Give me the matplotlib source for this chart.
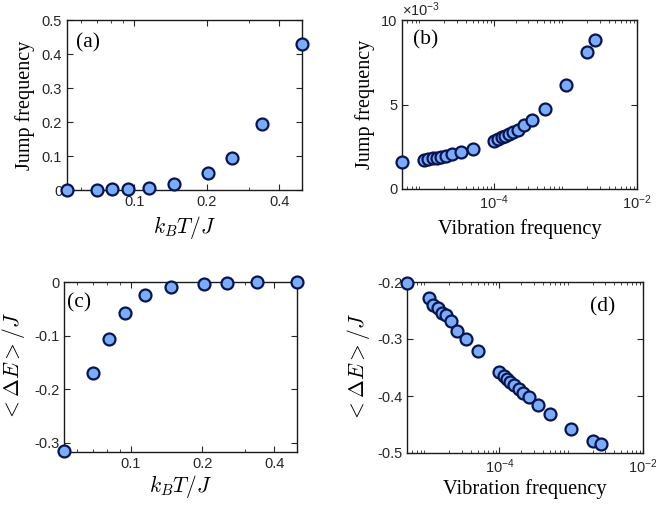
import numpy as np
import matplotlib
matplotlib.use('Agg')
import matplotlib.pyplot as plt
from matplotlib import ticker

plt.rcParams['mathtext.fontset'] = 'cm'
plt.rcParams['axes.unicode_minus'] = False
plt.rcParams['font.family'] = 'Liberation Sans'

# temperature data, panels (a) and (c)
kT = [0.0529, 0.070, 0.0813, 0.0947, 0.1154, 0.147, 0.203, 0.254, 0.339, 0.496]
jump_T = [0.001, 0.001, 0.002, 0.003, 0.007, 0.018, 0.05, 0.094, 0.194, 0.428]
dE_T = [-0.316, -0.169, -0.106, -0.057, -0.025, -0.010, -0.003, -0.0012, -0.0007, -0.0004]

# vibration frequency data, panels (b) and (d)
vib = [5.2e-6, 1.05e-5, 1.2e-5, 1.38e-5, 1.58e-5, 1.82e-5, 2.13e-5, 2.6e-5, 3.45e-5, 5.1e-5,
       1.0e-4, 1.14e-4, 1.28e-4, 1.42e-4, 1.62e-4, 1.86e-4, 2.13e-4, 2.6e-4, 3.4e-4, 5.1e-4,
       1.0e-3, 2.0e-3, 2.6e-3]
jump_v = [1.59, 1.71, 1.77, 1.81, 1.85, 1.91, 1.97, 2.05, 2.17, 2.38,
          2.85, 2.95, 3.05, 3.15, 3.27, 3.39, 3.50, 3.80, 4.07, 4.76,
          6.14, 8.13, 8.84]  # x 1e-3
dE_v = [-0.201, -0.228, -0.240, -0.245, -0.254, -0.258, -0.268, -0.286, -0.300, -0.321,
        -0.358, -0.365, -0.371, -0.376, -0.381, -0.387, -0.394, -0.402, -0.415, -0.431,
        -0.458, -0.479, -0.485]

face = '#7aacf7'
edge = '#061552'
tick_col = '#262626'
serif = 'Liberation Serif'

fig = plt.figure(figsize=(6.56, 5.13), dpi=100)
W, H = 656, 513

def make_ax(l, r, t, b):
    ax = fig.add_axes([l / W, 1 - b / H, (r - l) / W, (b - t) / H])
    ax.tick_params(which='both', direction='in', top=True, right=True,
                   labelsize=10.5, colors=tick_col, length=4)
    ax.tick_params(which='minor', length=2)
    for s in ax.spines.values():
        s.set_color('#1a1a1a')
        s.set_linewidth(1.0)
    return ax

def dots(ax, x, y):
    ax.plot(x, y, 'o', ms=8.6, mfc=face, mec=edge, mew=1.6, clip_on=False, zorder=5)

def temp_x(ax):
    ax.set_xscale('log')
    ax.set_xlim(0.0527, 0.497)
    ax.xaxis.set_major_locator(ticker.FixedLocator([0.1, 0.2, 0.4]))
    ax.xaxis.set_major_formatter(ticker.FixedFormatter(['0.1', '0.2', '0.4']))
    ax.xaxis.set_minor_formatter(ticker.NullFormatter())

def vib_x(ax):
    ax.set_xscale('log')
    ax.set_xlim(5.15e-6, 1e-2)
    ax.xaxis.set_major_locator(ticker.FixedLocator([1e-4, 1e-2]))
    ax.xaxis.set_major_formatter(ticker.FixedFormatter([r'$\mathregular{10^{-4}}$', r'$\mathregular{10^{-2}}$']))
    ax.xaxis.set_minor_locator(ticker.LogLocator(base=10, subs=np.arange(2, 10), numticks=20))
    ax.xaxis.set_minor_formatter(ticker.NullFormatter())

# (a)
ax = make_ax(67, 302, 20, 190)
dots(ax, kT, jump_T)
temp_x(ax)
ax.set_ylim(0, 0.5)
ax.set_yticks([0, 0.1, 0.2, 0.3, 0.4, 0.5])
ax.set_yticklabels(['0', '0.1', '0.2', '0.3', '0.4', '0.5'])
ax.set_ylabel('Jump frequency', fontsize=14.5, family=serif)
ax.yaxis.set_label_coords(-0.135, 0.5)
ax.set_xlabel(r'$k_BT/J$', fontsize=15.5)
ax.xaxis.set_label_coords(0.5, -0.14)
ax.text(0.04, 0.865, '(a)', transform=ax.transAxes, fontsize=15.5, family=serif, va='center')

# (b)
ax = make_ax(402, 637, 20, 189)
dots(ax, vib, np.array(jump_v) * 1e-3)
vib_x(ax)
ax.set_ylim(0, 0.01)
ax.set_yticks([0, 0.005, 0.01])
ax.set_yticklabels(['0', '5', '10'])
ax.text(0.0, 1.005, r'$\mathregular{\times10^{-3}}$', transform=ax.transAxes, fontsize=10.5,
        color=tick_col, ha='left', va='bottom')
ax.set_ylabel('Jump frequency', fontsize=14.5, family=serif)
ax.yaxis.set_label_coords(-0.115, 0.5)
ax.set_xlabel('Vibration frequency', fontsize=14.7, family=serif)
ax.xaxis.set_label_coords(0.5, -0.18)
ax.text(0.047, 0.88, '(b)', transform=ax.transAxes, fontsize=15.5, family=serif, va='center')

# (c)
ax = make_ax(64, 297, 282, 452)
dots(ax, kT, dE_T)
temp_x(ax)
ax.set_ylim(-0.317, 0)
ax.set_yticks([-0.3, -0.2, -0.1, 0])
ax.set_yticklabels(['-0.3', '-0.2', '-0.1', '0'])
ax.set_ylabel(r'$<\Delta E>/J$', fontsize=15.5)
ax.yaxis.set_label_coords(-0.16, 0.5)
ax.set_xlabel(r'$k_BT/J$', fontsize=15.5)
ax.xaxis.set_label_coords(0.5, -0.125)
ax.text(0.012, 0.875, '(c)', transform=ax.transAxes, fontsize=15.5, family=serif, va='center')

# (d)
ax = make_ax(407, 643, 282, 453)
dots(ax, vib, dE_v)
vib_x(ax)
ax.set_ylim(-0.5, -0.2)
ax.set_yticks([-0.5, -0.4, -0.3, -0.2])
ax.set_yticklabels(['-0.5', '-0.4', '-0.3', '-0.2'])
ax.set_ylabel(r'$<\Delta E>/J$', fontsize=15.5)
ax.yaxis.set_label_coords(-0.15, 0.5)
ax.set_xlabel('Vibration frequency', fontsize=14.7, family=serif)
ax.xaxis.set_label_coords(0.5, -0.155)
ax.text(0.775, 0.857, '(d)', transform=ax.transAxes, fontsize=15.5, family=serif, va='center')

fig.savefig('out.png', dpi=100)
